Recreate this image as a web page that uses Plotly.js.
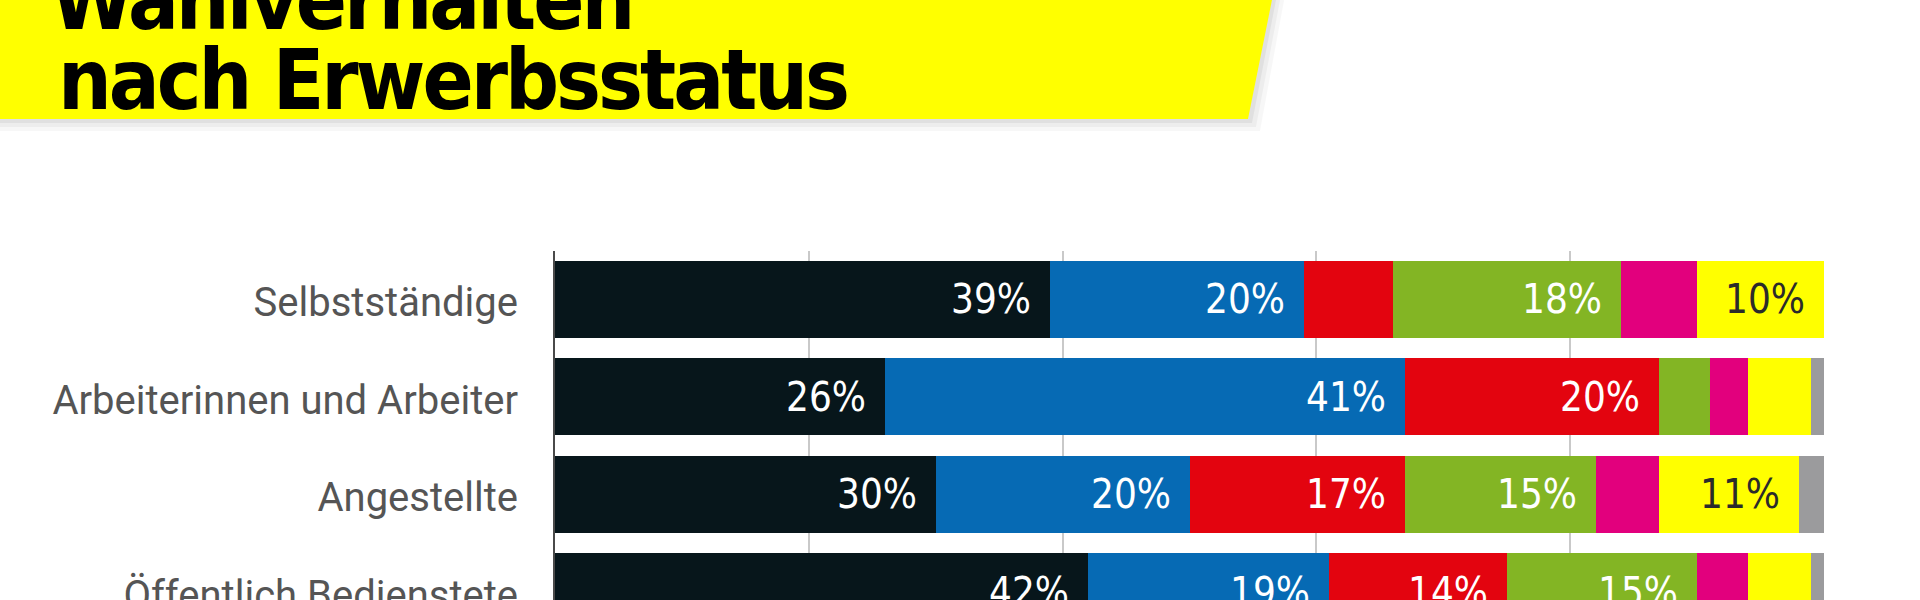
<!DOCTYPE html>
<html>
<head>
<meta charset="utf-8">
<script src="https://cdn.plot.ly/plotly-3.0.1.min.js"></script>
<style>
  html, body { margin: 0; padding: 0; background: #ffffff; overflow: hidden; }
  g.annotation[data-index="0"] text, g.annotation[data-index="1"] text { letter-spacing: -3px; }
</style>
</head>
<body>
<div id="chart" style="width:1920px;height:600px;"></div>
<script>
// ---- data ----
const categories = ["Selbstständige", "Arbeiterinnen und Arbeiter", "Angestellte", "Öffentlich Bedienstete"];
const seriesNames = ["Schwarz", "Blau", "Rot", "Grün", "Pink", "Gelb", "Andere"];
const schwarz = [39, 26, 30, 42];
const blau    = [20, 41, 20, 19];
const rot     = [7, 20, 17, 14];
const gruen   = [18, 4, 15, 15];
const pink    = [6, 3, 5, 4];
const gelb    = [10, 5, 11, 5];
const andere  = [0, 1, 2, 1];
const titleLines = ["Wahlverhalten", "nach Erwerbsstatus"];

// ---- styling ----
const seriesValues = [schwarz, blau, rot, gruen, pink, gelb, andere];
const colors = ["#07161b", "#066ab4", "#e3040f", "#83b524", "#e2007d", "#ffff00", "#9b9b9d"];
const labelColors = ["#ffffff", "#ffffff", "#ffffff", "#ffffff", "#ffffff", "#2b2b2b", "#ffffff"];

const L = 555, R = 1824, T = 251, B = 600;
const px2x = p => (p - L) / (R - L);
const py2y = p => (B - p) / (B - T);

const traces = seriesValues.map((vals, s) => ({
  type: "bar",
  orientation: "h",
  name: seriesNames[s],
  y: categories,
  x: vals,
  marker: { color: colors[s], line: { width: 0 } },
  hoverinfo: "x+name"
}));

const annotations = [];
// title lines
annotations.push({
  xref: "paper", yref: "paper", x: px2x(29), y: py2y(51),
  xanchor: "left", yanchor: "bottom", showarrow: false,
  text: titleLines[0],
  font: { family: "DejaVu Sans Condensed, DejaVu Sans", size: 84, color: "#000000", weight: "bold" }
});
annotations.push({
  xref: "paper", yref: "paper", x: px2x(29), y: py2y(131),
  xanchor: "left", yanchor: "bottom", showarrow: false,
  text: titleLines[1],
  font: { family: "DejaVu Sans Condensed, DejaVu Sans", size: 84, color: "#000000", weight: "bold" }
});

// value labels (only for segments >= 10)
categories.forEach((cat, i) => {
  let cum = 0;
  seriesValues.forEach((vals, s) => {
    cum += vals[i];
    if (vals[i] >= 10) {
      annotations.push({
        xref: "x", yref: "y", x: cum, y: cat,
        xanchor: "right", yanchor: "middle", xshift: -17, showarrow: false,
        text: vals[i] + "%",
        font: { family: "DejaVu Sans Condensed, DejaVu Sans", size: 40, color: labelColors[s] }
      });
    }
  });
});

function bannerPath(dx, dy, grow) {
  const pts = [[-10 + dx, -10], [1274 + dx + grow, -10], [1248 + dx + grow, 119 + dy + grow], [-10 + dx, 119 + dy + grow]];
  return "M " + pts.map(p => px2x(p[0]) + "," + py2y(p[1])).join(" L ") + " Z";
}

const shapes = [
  { type: "path", xref: "paper", yref: "paper", path: bannerPath(2, 2, 10), fillcolor: "rgba(0,0,0,0.03)", line: { width: 0 }, layer: "above" },
  { type: "path", xref: "paper", yref: "paper", path: bannerPath(2, 2, 6), fillcolor: "rgba(0,0,0,0.04)", line: { width: 0 }, layer: "above" },
  { type: "path", xref: "paper", yref: "paper", path: bannerPath(2, 2, 2), fillcolor: "rgba(0,0,0,0.05)", line: { width: 0 }, layer: "above" },
  { type: "path", xref: "paper", yref: "paper", path: bannerPath(0, 0, 0), fillcolor: "#ffff00", line: { width: 0 }, layer: "above" }
];

const layout = {
  width: 1920, height: 600,
  margin: { l: L, r: 1920 - R, t: T, b: 600 - B, pad: 0 },
  paper_bgcolor: "#ffffff", plot_bgcolor: "#ffffff",
  showlegend: false,
  barmode: "stack",
  bargap: 0.21,
  xaxis: {
    range: [0, 100], dtick: 20, tick0: 0,
    showgrid: true, gridcolor: "#c9c9c9", gridwidth: 2,
    zeroline: false, showticklabels: false, showline: false, fixedrange: true
  },
  yaxis: {
    type: "category",
    range: [3.086, -0.497],
    showgrid: false, zeroline: false,
    showline: true, linecolor: "#4a4a4a", linewidth: 2,
    ticks: "", ticklabelstandoff: 27, ticklabelshift: -3,
    tickfont: { family: "Roboto, Noto Sans, sans-serif", size: 40, color: "#555555" },
    fixedrange: true
  },
  shapes: shapes,
  annotations: annotations
};

Plotly.newPlot("chart", traces, layout, { displayModeBar: false, staticPlot: true });
</script>
</body>
</html>
